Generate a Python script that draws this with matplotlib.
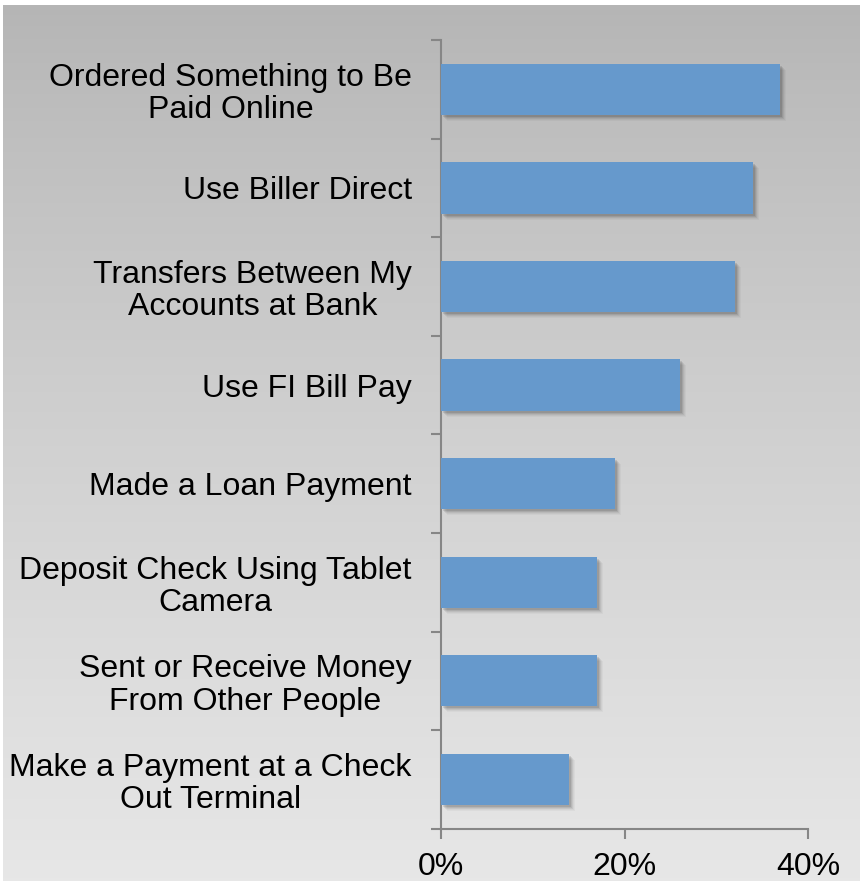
import numpy as np
import matplotlib
matplotlib.use("Agg")
import matplotlib.pyplot as plt
import matplotlib.transforms as mtransforms

plt.rcParams['font.family'] = ['Liberation Sans', 'DejaVu Sans']

categories = [
    "Ordered Something to Be\nPaid Online",
    "Use Biller Direct",
    "Transfers Between My\nAccounts at Bank",
    "Use FI Bill Pay",
    "Made a Loan Payment",
    "Deposit Check Using Tablet\nCamera",
    "Sent or Receive Money\nFrom Other People",
    "Make a Payment at a Check\nOut Terminal",
]
shares = [0.37, 0.34, 0.32, 0.26, 0.19, 0.17, 0.17, 0.14]
x_ticks = [0.0, 0.2, 0.4]
x_tick_labels = ["0%", "20%", "40%"]

bar_color = "#6699cc"
axis_color = "#868686"

W, H = 860, 881
fig = plt.figure(figsize=(W / 100, H / 100), dpi=100)
fig.patch.set_facecolor("white")

# gray vertical gradient panel behind the chart
bg = fig.add_axes([3 / W, 0, (W - 3) / W, (H - 5) / H])
grad = np.linspace(0, 1, 256) ** 0.85
shade = 181 + (231 - 181) * grad
img = np.repeat(shade[:, None], 2, axis=1) / 255.0
bg.imshow(np.dstack([img, img, img]), aspect="auto", extent=[0, 1, 0, 1],
          origin="upper")
bg.set_axis_off()

ax = fig.add_axes([441 / W, 1 - 828.7 / H, (808 - 441) / W, (828.7 - 40) / H])
ax.set_facecolor("none")

y = np.arange(len(categories))
bar_h = 0.52

# soft drop shadow under each bar
for dx, dy, a in [(2, -2, 0.10), (3, -3, 0.08), (4, -4, 0.06), (5, -5, 0.04), (6, -6, 0.03)]:
    off = mtransforms.offset_copy(ax.transData, fig=fig, x=dx, y=dy, units="dots")
    ax.barh(y, shares, height=bar_h, color="black", alpha=a, transform=off,
            linewidth=0, zorder=1)
ax.barh(y, shares, height=bar_h, color=bar_color, linewidth=0, zorder=3)

ax.set_xlim(0, 0.4)
ax.set_ylim(len(categories) - 0.5, -0.5)

for side in ("top", "right"):
    ax.spines[side].set_visible(False)
for side in ("left", "bottom"):
    ax.spines[side].set_color(axis_color)
    ax.spines[side].set_linewidth(1.5)

ax.set_xticks(x_ticks)
ax.set_xticklabels(x_tick_labels, fontsize=23)
ax.tick_params(axis="x", direction="out", length=7, width=1.5,
               color=axis_color, pad=10)

ax.set_yticks(y)
ax.set_yticklabels(categories, fontsize=23, ha="right", multialignment="center",
                   linespacing=1.1)
ax.tick_params(axis="y", which="major", length=0, pad=21)
ax.set_yticks(np.arange(len(categories) + 1) - 0.5, minor=True)
ax.tick_params(axis="y", which="minor", direction="out", length=7, width=1.5,
               color=axis_color)

fig.savefig("out.png", dpi=100, facecolor=fig.get_facecolor())
